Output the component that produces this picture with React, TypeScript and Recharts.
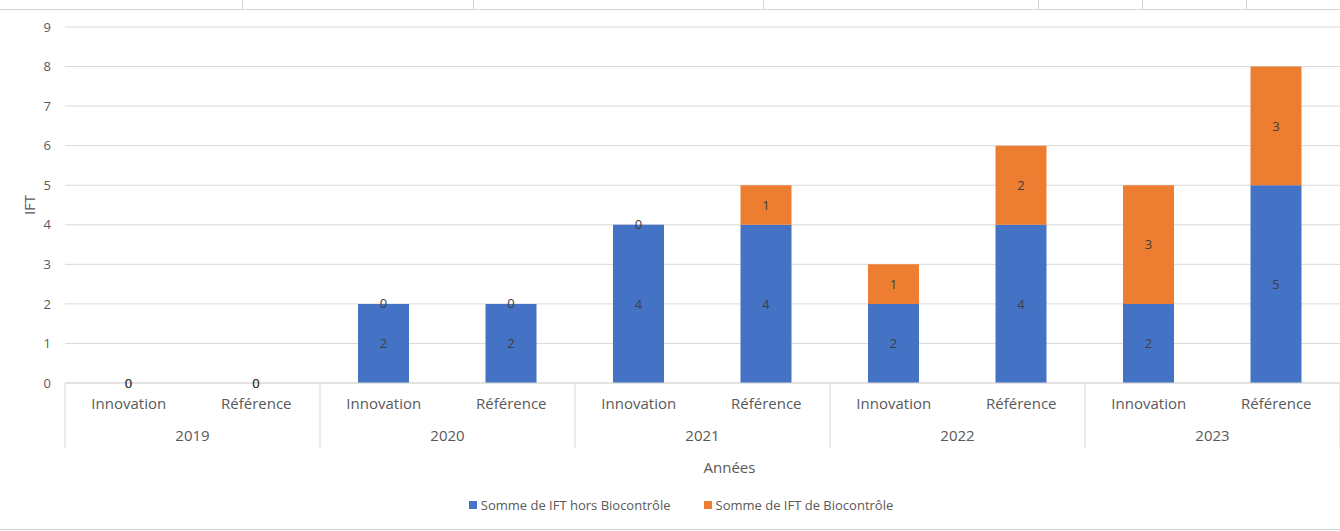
import React from 'react';
import { BarChart, Bar, XAxis, YAxis, CartesianGrid, Legend, LabelList } from 'recharts';

const years = ['2019', '2020', '2021', '2022', '2023'];
const modalities = ['Innovation', 'Référence'];
const iftHorsBio = [0, 0, 2, 2, 4, 4, 2, 4, 2, 5];
const iftBio = [0, 0, 0, 0, 0, 1, 1, 2, 3, 3];
const yTicks = [0, 1, 2, 3, 4, 5, 6, 7, 8, 9];
const seriesNames = ['Somme de IFT hors Biocontrôle', 'Somme de IFT de Biocontrôle'];
const seriesColors = ['#4472C4', '#ED7D31'];

const rows = iftHorsBio.map((v, i) => ({
  key: `${years[Math.floor(i / 2)]}-${modalities[i % 2]}`,
  cat: modalities[i % 2],
  year: years[Math.floor(i / 2)],
  hors: v,
  bio: iftBio[i],
}));

const W = 1340;
const H = 531;
const LEFT = 65;
const SLOT = (W - LEFT) / rows.length;
const GREY = '#d9d9d9';
const TXT = '#595959';
const FONT = '"Open Sans", "Noto Sans", sans-serif';

function CatTick(props: any) {
  const { x, y, index } = props;
  const row = rows[index];
  if (!row) return null;
  const first = index % 2 === 0;
  const last = index === rows.length - 1;
  return (
    <g>
      <text x={x} y={y + 22} textAnchor="middle" dominantBaseline="middle" fill={TXT} fontSize={15}>
        {row.cat}
      </text>
      {first && (
        <text x={x + SLOT / 2} y={y + 54} textAnchor="middle" dominantBaseline="middle" fill={TXT} fontSize={15}>
          {row.year}
        </text>
      )}
      {first && <line x1={x - SLOT / 2} x2={x - SLOT / 2} y1={y} y2={y + 65} stroke={GREY} />}
      {last && <line x1={x + SLOT / 2} x2={x + SLOT / 2} y1={y} y2={y + 65} stroke={GREY} />}
    </g>
  );
}

function LegendBox() {
  return (
    <div style={{ display: 'flex', justifyContent: 'center', gap: 33, fontSize: 13, color: TXT, lineHeight: '20px', paddingLeft: 22 }}>
      {seriesNames.map((n, i) => (
        <span key={n} style={{ display: 'flex', alignItems: 'center' }}>
          <span style={{ width: 8, height: 8, background: seriesColors[i], marginRight: 4, display: 'inline-block' }} />
          {n}
        </span>
      ))}
    </div>
  );
}

const topCells = [242, 473, 763, 1038, 1142, 1246];

export default function App() {
  return (
    <div style={{ position: 'absolute', left: 0, top: 0, width: W, height: H, background: '#fff', fontFamily: FONT }}>
      <svg width={W} height={H} style={{ position: 'absolute', left: 0, top: 0 }}>
        <line x1={0} x2={W} y1={9.5} y2={9.5} stroke="#d4d4d4" />
        {topCells.map((cx) => (
          <line key={cx} x1={cx + 0.5} x2={cx + 0.5} y1={0} y2={9} stroke="#d4d4d4" />
        ))}
        <line x1={0} x2={W} y1={529.5} y2={529.5} stroke="#d4d4d4" />
      </svg>
      <div style={{ position: 'absolute', left: 0, top: 0 }}>
        <BarChart width={W} height={H} data={rows} margin={{ top: 27, right: 0, left: 0, bottom: 0 }}>
          <CartesianGrid vertical={false} stroke={GREY} />
          <YAxis
            width={LEFT}
            domain={[0, 9]}
            ticks={yTicks}
            axisLine={false}
            tickLine={false}
            tickMargin={8}
            tick={{ fill: TXT, fontSize: 13 }}
            label={{ value: 'IFT', angle: -90, position: 'center', dx: -3, fill: TXT, fontSize: 15 }}
          />
          <XAxis
            dataKey="key"
            height={128}
            axisLine={{ stroke: GREY }}
            tickLine={false}
            tickSize={0}
            tickMargin={0}
            interval={0}
            tick={<CatTick />}
            label={{ value: 'Années', position: 'insideTop', offset: 79, dx: 27, fill: TXT, fontSize: 15 }}
          />
          <Legend
            content={<LegendBox />}
            wrapperStyle={{ position: 'absolute', top: 495, left: 0, width: W, height: 20 }}
          />
          <Bar dataKey="hors" name={seriesNames[0]} stackId="a" fill={seriesColors[0]} barSize={51} minPointSize={0.01} isAnimationActive={false}>
            <LabelList dataKey="hors" position="center" fill="#404040" fontSize={13} />
          </Bar>
          <Bar dataKey="bio" name={seriesNames[1]} stackId="a" fill={seriesColors[1]} barSize={51} minPointSize={0.01} isAnimationActive={false}>
            <LabelList dataKey="bio" position="center" fill="#404040" fontSize={13} />
          </Bar>
        </BarChart>
      </div>
    </div>
  );
}
